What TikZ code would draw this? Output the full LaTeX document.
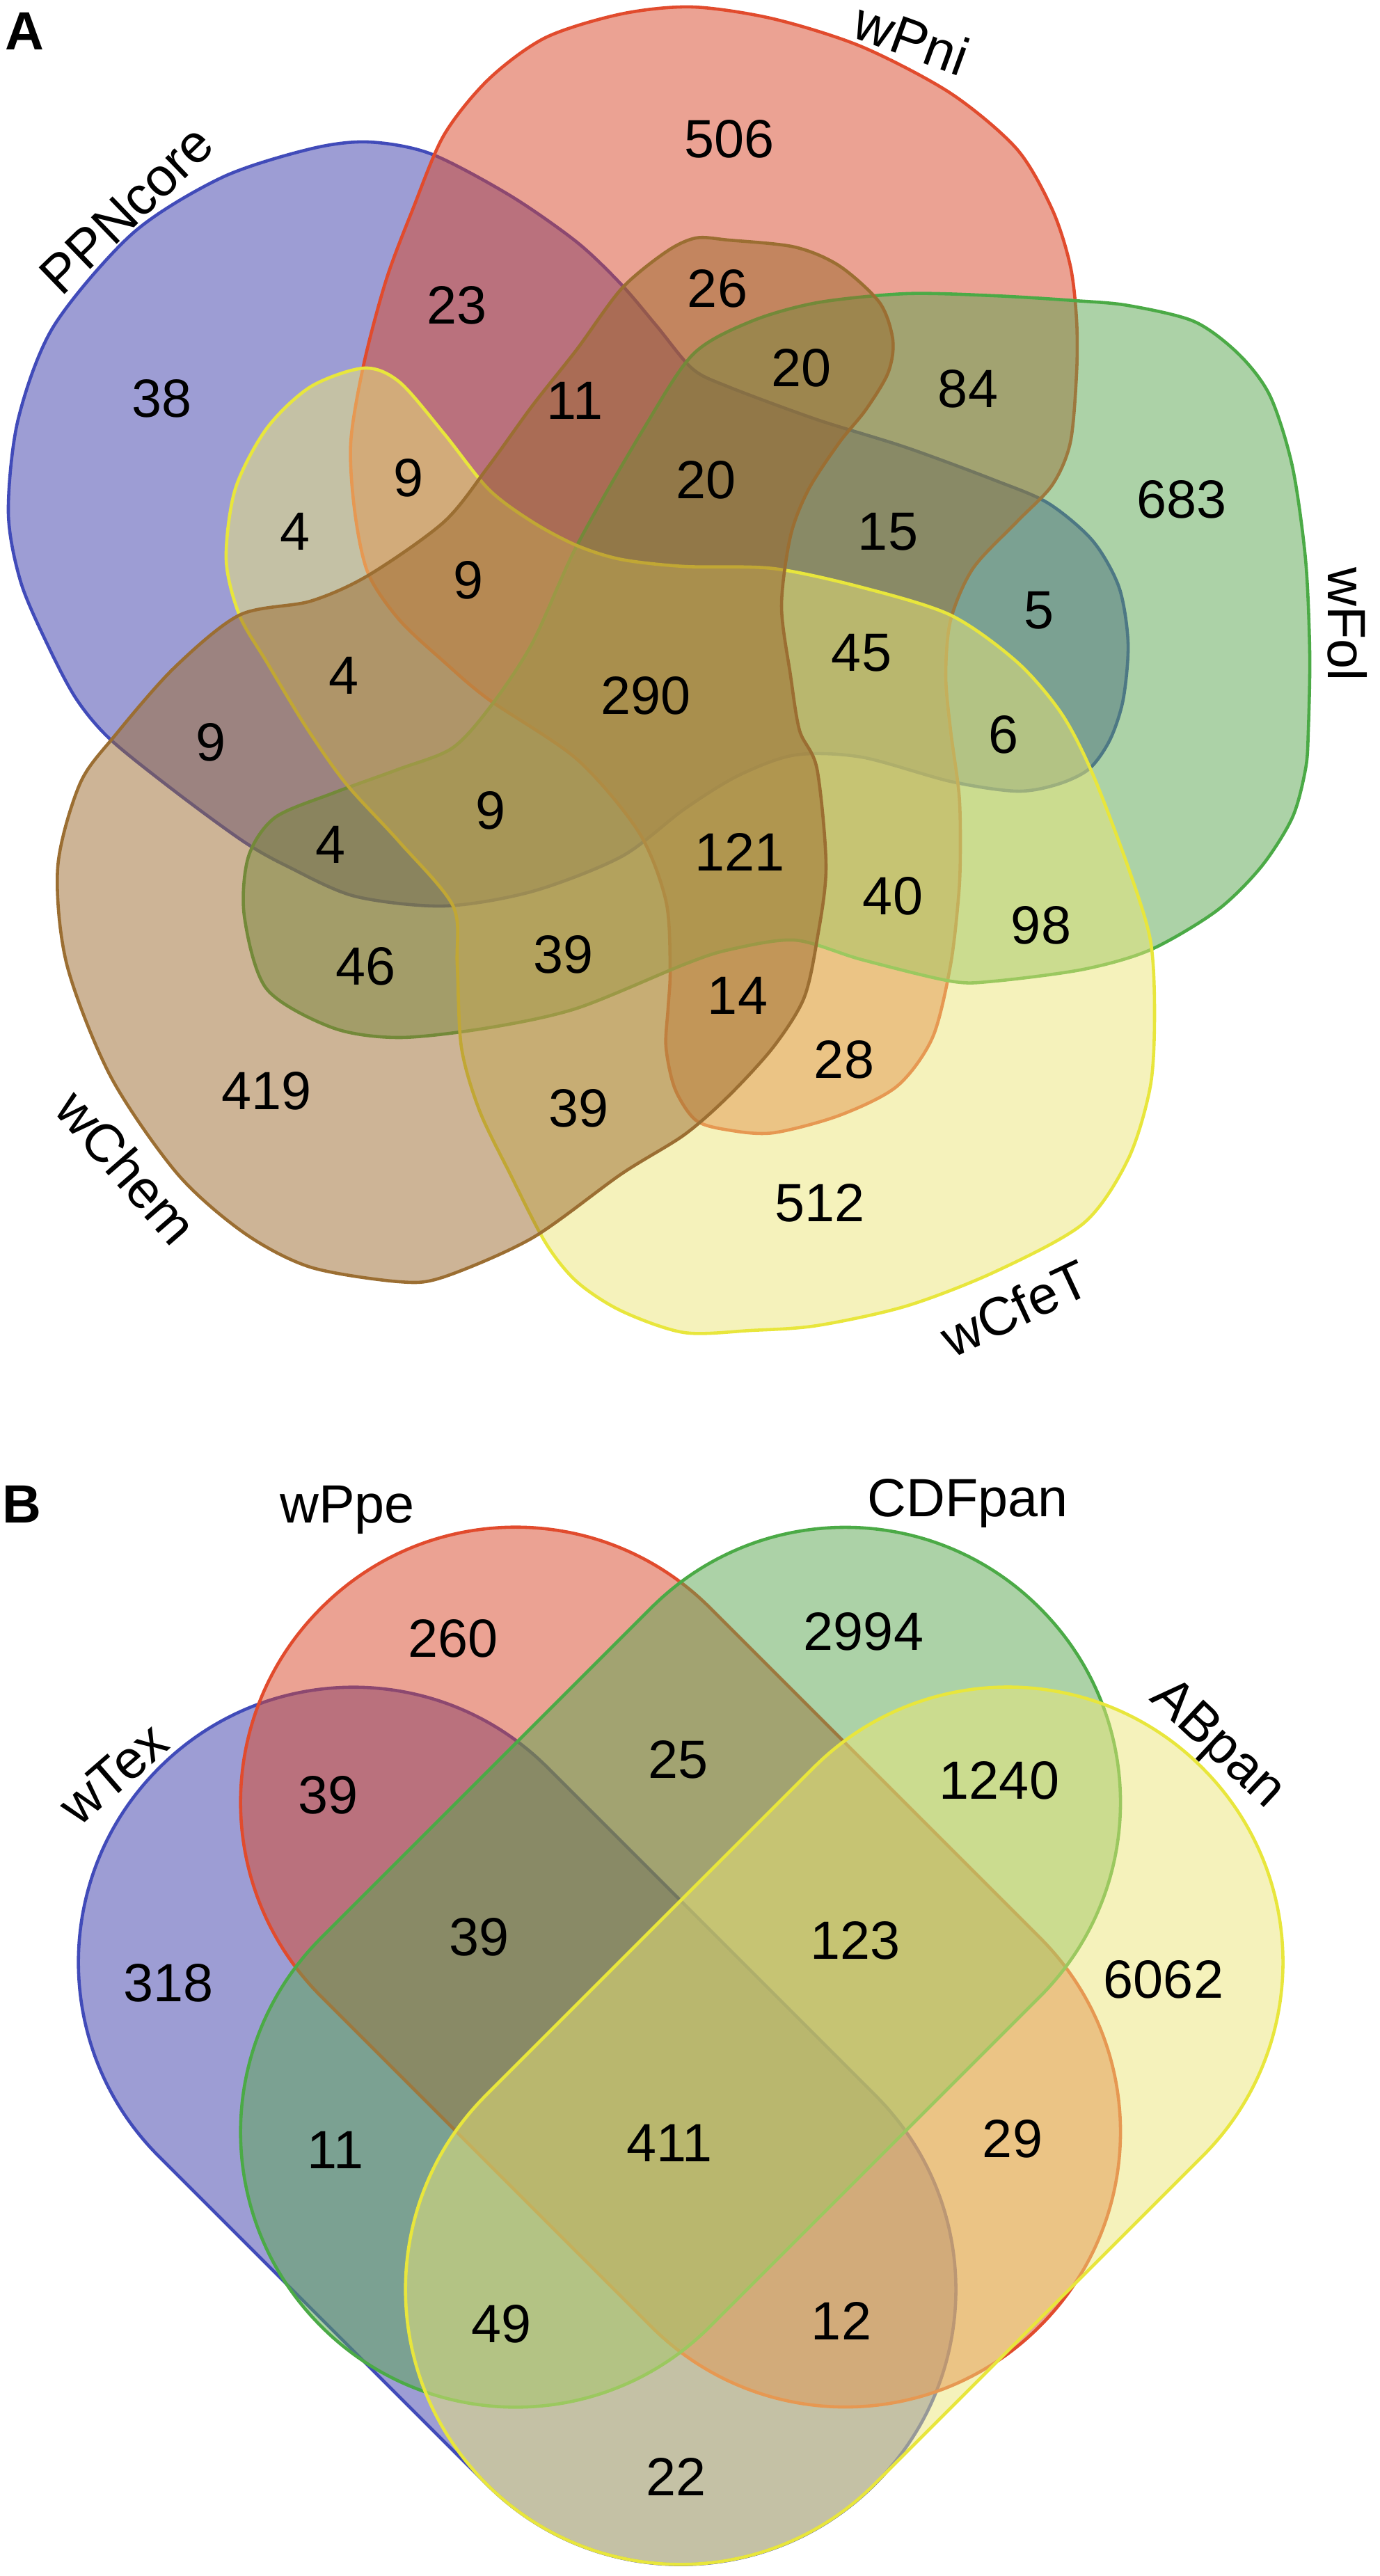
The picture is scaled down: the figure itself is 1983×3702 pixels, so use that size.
\documentclass[tikz,border=0pt]{standalone}
\usepackage{fontspec}
\setmainfont{Liberation Sans}
\definecolor{ppnfill}{RGB}{60,60,170}
\definecolor{ppnline}{RGB}{65,75,185}
\definecolor{pnifill}{RGB}{215,70,40}
\definecolor{pniline}{RGB}{225,75,45}
\definecolor{folfill}{RGB}{90,165,80}
\definecolor{folline}{RGB}{75,170,70}
\definecolor{cfefill}{RGB}{235,230,120}
\definecolor{cfeline}{RGB}{232,230,60}
\definecolor{chemfill}{RGB}{155,105,45}
\definecolor{chemline}{RGB}{155,110,50}

\begin{document}
\begin{tikzpicture}[x=0.01cm, y=-0.01cm, every node/.style={align=center, text=black}]
        \tikzstyle{venn}=[line width=1.3pt, fill opacity=0.5];
        \tikzstyle{blueset}=[venn, draw=ppnline, fill=ppnfill];
        \tikzstyle{redset}=[venn, draw=pniline, fill=pnifill];
        \tikzstyle{greenset}=[venn, draw=folline, fill=folfill];
        \tikzstyle{yellowset}=[venn, draw=cfeline, fill=cfefill];
        \tikzstyle{brownset}=[venn, draw=chemline, fill=chemfill];
        \tikzstyle{capsule}=[rounded corners=3.94cm];
        \tikzstyle{countlbl}=[font=\fontsize{22}{26}\selectfont];
        \tikzstyle{setname}=[font=\fontsize{22}{26}\selectfont];
        \tikzstyle{panellbl}=[font=\fontsize{22}{26}\selectfont\bfseries];
        \useasboundingbox (0,0) rectangle (1983,3702);

        % A: five sets
        \draw[blueset] plot[smooth cycle] coordinates {(529,204) (619,221) (733,281) (829,348) (893,409) (944,469) (995,530) (1047,556) (1174,603) (1302,643) (1429,690) (1506,723) (1570,777) (1608,844) (1621,924) (1614,1005) (1595,1063) (1565,1105) (1520,1127) (1461,1137) (1366,1123) (1238,1088) (1142,1085) (1060,1115) (983,1163) (893,1231) (765,1281) (638,1302) (510,1288) (415,1246) (351,1210) (255,1140) (159,1063) (110,1005) (70,930) (30,837) (12,737) (26,603) (77,469) (191,335) (319,255) (446,214)};
        \draw[redset] plot[smooth cycle] coordinates {(702,114) (784,54) (893,20) (995,10) (1111,27) (1238,67) (1366,134) (1461,214) (1512,301) (1538,382) (1547,460) (1547,536) (1538,636) (1512,697) (1461,750) (1398,817) (1366,891) (1359,971) (1366,1050) (1378,1140) (1380,1210) (1378,1281) (1366,1386) (1340,1491) (1289,1561) (1206,1603) (1111,1628) (1047,1624) (1000,1610) (970,1565) (957,1505) (960,1449) (963,1393) (957,1295) (918,1196) (829,1091) (702,1005) (638,951) (574,891) (529,824) (510,737) (504,636) (523,522) (555,402) (593,301) (638,194)};
        \draw[greenset] plot[smooth cycle] coordinates {(996,509) (1079,462) (1174,435) (1302,422) (1429,425) (1544,432) (1621,439) (1716,462) (1780,509) (1825,569) (1857,670) (1876,804) (1882,938) (1880,1050) (1876,1105) (1857,1175) (1812,1246) (1748,1309) (1653,1365) (1557,1393) (1429,1410) (1366,1410) (1238,1379) (1142,1351) (1047,1365) (983,1386) (829,1449) (702,1477) (574,1491) (478,1477) (383,1421) (351,1316) (357,1231) (395,1175) (478,1140) (574,1105) (650,1075) (705,1015) (765,924) (829,784) (925,616)};
        \draw[yellowset] plot[smooth cycle] coordinates {(523,529) (574,549) (638,623) (702,703) (765,750) (829,784) (893,804) (983,814) (1111,817) (1238,844) (1366,884) (1461,951) (1525,1025) (1570,1112) (1621,1246) (1653,1351) (1659,1456) (1653,1561) (1621,1666) (1557,1758) (1429,1828) (1302,1877) (1174,1905) (1079,1912) (983,1915) (893,1884) (829,1842) (784,1786) (733,1687) (689,1596) (663,1505) (657,1386) (651,1302) (574,1210) (497,1126) (440,1045) (383,951) (344,884) (325,804) (338,703) (383,616) (446,556)};
        \draw[brownset] plot[smooth cycle] coordinates {(1000,342) (1047,345) (1142,355) (1206,382) (1264,435) (1283,489) (1276,536) (1244,589) (1206,636) (1162,703) (1136,770) (1123,871) (1136,971) (1149,1050) (1174,1105) (1187,1246) (1174,1351) (1155,1435) (1111,1505) (1047,1575) (983,1631) (893,1687) (765,1779) (638,1835) (574,1842) (446,1821) (351,1772) (255,1687) (159,1547) (96,1386) (83,1246) (115,1126) (166,1056) (250,960) (344,884) (446,864) (529,827) (638,750) (702,670) (765,583) (829,502) (893,415) (957,362)};

        \node[panellbl] (labA) at (35,45) {A};
        \node[setname, rotate=44] (PPNcore) at (182,301) {PPNcore};
        \node[setname, rotate=-20] (wPni) at (1310,55) {wPni};
        \node[setname, rotate=-90] (wFol) at (1936,897) {wFol};
        \node[setname, rotate=25] (wCfeT) at (1458,1880) {wCfeT};
        \node[setname, rotate=-49] (wChem) at (182,1677) {wChem};

        \node[countlbl] (a38) at (233,573) {38};
        \node[countlbl] (a23) at (657,439) {23};
        \node[countlbl] (a11) at (826,576) {11};
        \node[countlbl] (a9a) at (587,687) {9};
        \node[countlbl] (a4a) at (424,764) {4};
        \node[countlbl] (a9b) at (673,834) {9};
        \node[countlbl] (a4b) at (494,971) {4};
        \node[countlbl] (a290) at (928,1000) {290};
        \node[countlbl] (a506) at (1048,200) {506};
        \node[countlbl] (a26) at (1031,415) {26};
        \node[countlbl] (a20a) at (1152,529) {20};
        \node[countlbl] (a84) at (1391,559) {84};
        \node[countlbl] (a20b) at (1015,690) {20};
        \node[countlbl] (a683) at (1698,718) {683};
        \node[countlbl] (a15) at (1276,764) {15};
        \node[countlbl] (a5) at (1493,877) {5};
        \node[countlbl] (a45) at (1238,938) {45};
        \node[countlbl] (a6) at (1442,1056) {6};
        \node[countlbl] (a121) at (1063,1224) {121};
        \node[countlbl] (a40) at (1283,1288) {40};
        \node[countlbl] (a98) at (1496,1330) {98};
        \node[countlbl] (a14) at (1060,1431) {14};
        \node[countlbl] (a28) at (1213,1523) {28};
        \node[countlbl] (a512) at (1178,1729) {512};
        \node[countlbl] (a9c) at (303,1067) {9};
        \node[countlbl] (a9d) at (705,1165) {9};
        \node[countlbl] (a4c) at (475,1214) {4};
        \node[countlbl] (a39a) at (810,1372) {39};
        \node[countlbl] (a46) at (526,1389) {46};
        \node[countlbl] (a419) at (383,1568) {419};
        \node[countlbl] (a39b) at (832,1593) {39};

        % B: four sets
        \begin{scope}[shift={(508,2820)}, rotate=-45]
            \draw[blueset, capsule] (-395,-395) rectangle (1060,395);
        \end{scope}
        \begin{scope}[shift={(741,2590)}, rotate=-45]
            \draw[redset, capsule] (-395,-395) rectangle (1065,395);
        \end{scope}
        \begin{scope}[shift={(741,3064)}, rotate=45]
            \draw[greenset, capsule] (-395,-395) rectangle (1065,395);
        \end{scope}
        \begin{scope}[shift={(978,3290)}, rotate=45]
            \draw[yellowset, capsule] (-395,-395) rectangle (1060,395);
        \end{scope}

        \node[panellbl] (labB) at (31,2162) {B};
        \node[setname] (wPpe) at (499,2170) {wPpe};
        \node[setname] (CDFpan) at (1391,2160) {CDFpan};
        \node[setname, rotate=41] (wTex) at (163,2549) {wTex};
        \node[setname, rotate=-43] (ABpan) at (1748,2508) {ABpan};

        \node[countlbl] (b260) at (651,2355) {260};
        \node[countlbl] (b39a) at (472,2580) {39};
        \node[countlbl] (b25) at (975,2529) {25};
        \node[countlbl] (b39b) at (689,2784) {39};
        \node[countlbl] (b318) at (242,2850) {318};
        \node[countlbl] (b11) at (482,3090) {11};
        \node[countlbl] (b411) at (962,3080) {411};
        \node[countlbl] (b49) at (721,3340) {49};
        \node[countlbl] (b22) at (972,3559) {22};
        \node[countlbl] (b2994) at (1241,2345) {2994};
        \node[countlbl] (b1240) at (1436,2559) {1240};
        \node[countlbl] (b123) at (1229,2789) {123};
        \node[countlbl] (b6062) at (1672,2845) {6062};
        \node[countlbl] (b29) at (1455,3074) {29};
        \node[countlbl] (b12) at (1209,3335) {12};
\end{tikzpicture}
\end{document}
